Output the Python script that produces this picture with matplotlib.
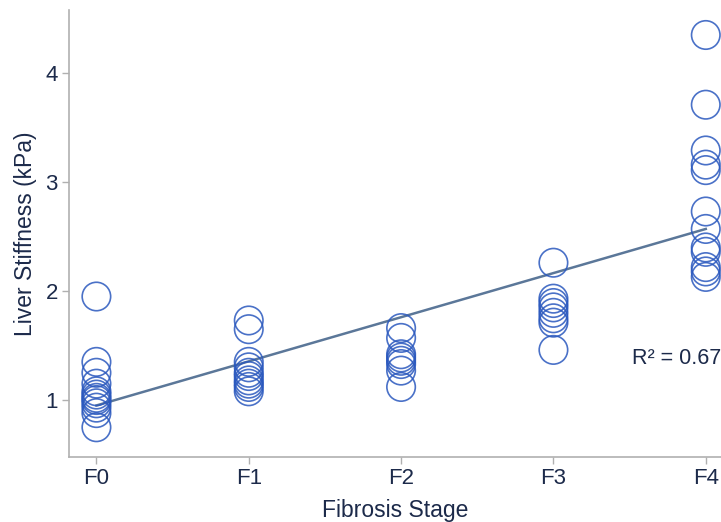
import matplotlib
matplotlib.use("Agg")
import matplotlib.pyplot as plt

plt.rcParams['font.family'] = ['Liberation Sans', 'DejaVu Sans']

stages = ["F0", "F1", "F2", "F3", "F4"]
f0 = [1.95, 1.35, 1.25, 1.15, 1.08, 1.05, 1.02, 1.0, 0.97, 0.93, 0.88, 0.75]
f1 = [1.73, 1.65, 1.35, 1.30, 1.25, 1.22, 1.18, 1.15, 1.12, 1.08]
f2 = [1.66, 1.57, 1.42, 1.39, 1.36, 1.33, 1.27, 1.12]
f3 = [2.26, 1.93, 1.89, 1.85, 1.80, 1.75, 1.71, 1.46]
f4 = [4.35, 3.71, 3.29, 3.16, 3.11, 2.73, 2.57, 2.40, 2.36, 2.22, 2.18, 2.13]
groups = [f0, f1, f2, f3, f4]
fit_ends = [0.95, 2.57]
r2_label = "R² = 0.67"

txt = "#1c2a4a"
fig = plt.figure(figsize=(7.21, 5.22), dpi=100)
ax = fig.add_axes([0.0957, 0.1245, 0.9043, 0.8565])

for i, vals in enumerate(groups):
    ax.scatter([i] * len(vals), vals, s=420, facecolors="none",
               edgecolors="#2a58be", linewidths=1.2, alpha=0.85, clip_on=False, zorder=3)

ax.plot([0, 4], fit_ends, color="#5b7799", lw=1.8, zorder=2)

ax.text(4.1, 1.38, r2_label, ha="right", va="center", fontsize=15.5, color=txt)

ax.set_xlim(-0.18, 4.1)
ax.set_ylim(0.477, 4.58)
ax.set_xticks(range(5))
ax.set_xticklabels(stages)
ax.set_yticks([1, 2, 3, 4])
ax.tick_params(colors="#b0b0b0", labelcolor=txt, labelsize=16, length=5, width=1, pad=3)
ax.set_xlabel("Fibrosis Stage", fontsize=16.5, color=txt, labelpad=7)
ax.set_ylabel("Liver Stiffness (kPa)", fontsize=16.5, color=txt, labelpad=6)
for s in ["top", "right"]:
    ax.spines[s].set_visible(False)
for s in ["left", "bottom"]:
    ax.spines[s].set_color("#b0b0b0")
    ax.spines[s].set_linewidth(1.2)

fig.savefig("out.png", dpi=100)
